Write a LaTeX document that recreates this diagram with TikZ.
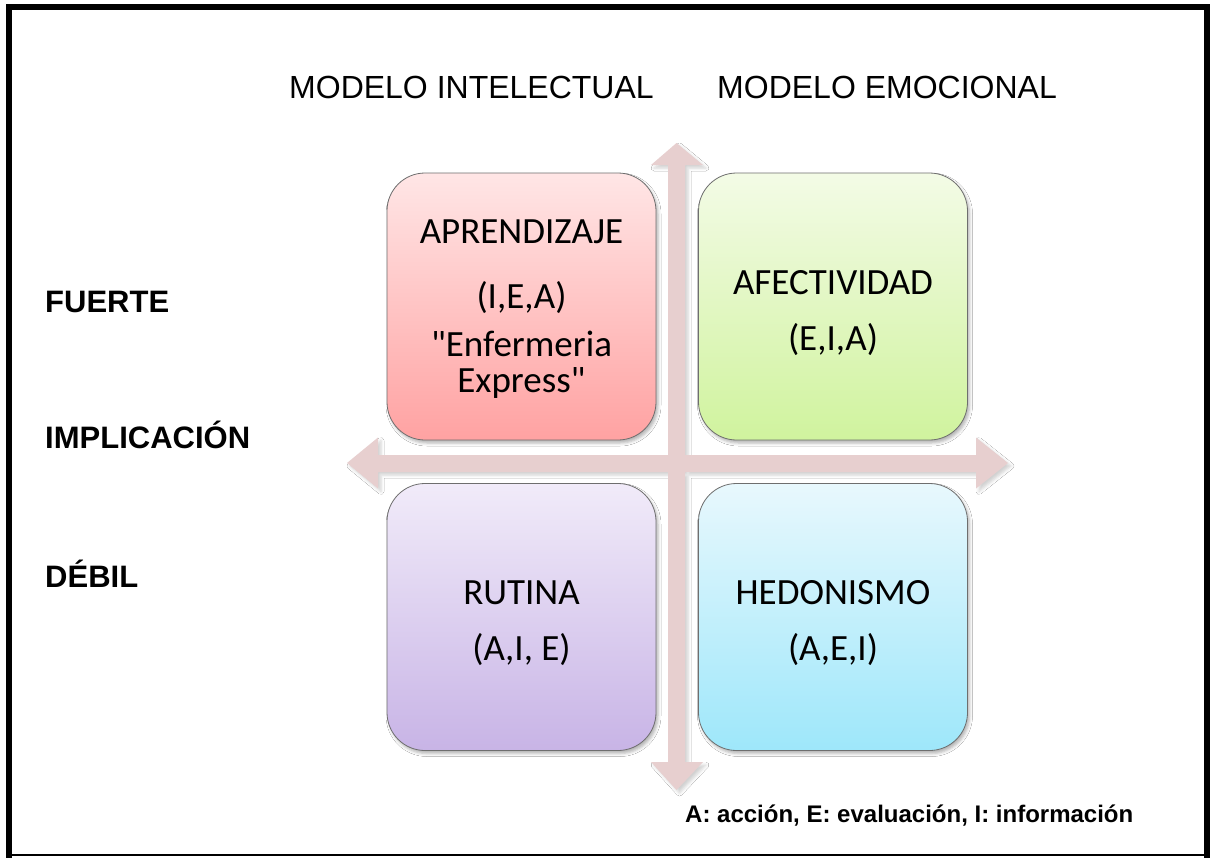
\documentclass[tikz,border=0pt]{standalone}
\usepackage{fontspec}
\setmainfont{Liberation Sans}
\newfontfamily\boxfont{Carlito}
\usetikzlibrary{shadows.blur}
\definecolor{arrowc}{RGB}{231,207,207}
\definecolor{boxline}{RGB}{110,110,110}
\definecolor{aprT}{RGB}{255,230,230}
\definecolor{aprB}{RGB}{255,162,162}
\definecolor{afeT}{RGB}{243,251,230}
\definecolor{afeB}{RGB}{208,243,158}
\definecolor{rutT}{RGB}{241,235,249}
\definecolor{rutB}{RGB}{200,180,230}
\definecolor{hedT}{RGB}{232,248,253}
\definecolor{hedB}{RGB}{158,231,250}
\begin{document}
\begin{tikzpicture}[x=1pt,y=-1pt,
  qbox/.style={draw=boxline, line width=0.8pt, rounded corners=38pt,
    minimum width=269pt, minimum height=267pt, inner sep=0pt, align=center,
    font=\boxfont\fontsize{37}{36}\selectfont,
    blur shadow={shadow xshift=2pt, shadow yshift=-3pt, shadow opacity=30, shadow blur radius=3pt}},
  toplabel/.style={anchor=base west, inner sep=0pt, font=\fontsize{32}{38}\selectfont},
  sidelabel/.style={anchor=base west, inner sep=0pt, font=\bfseries\fontsize{31}{36}\selectfont},
  legend/.style={anchor=base west, inner sep=0pt, font=\bfseries\fontsize{24}{28}\selectfont},
  crossarrow/.style={fill=arrowc,
    blur shadow={shadow xshift=3pt, shadow yshift=-3pt, shadow opacity=18, shadow blur radius=3pt}}
]
\useasboundingbox (0,0) rectangle (1214,857);
\fill[white] (0,0) rectangle (1214,857);

% axes (double block arrows)
\path[crossarrow]
  (676.5,143) -- (703,165) -- (685,165) -- (685,762) -- (703,762) -- (676.5,790)
  -- (651,762) -- (668,762) -- (668,165) -- (651,165) -- cycle
  (347,463) -- (378,437.5) -- (378,455) -- (976,455) -- (976,437.5) -- (1008,463)
  -- (976,488.5) -- (976,472) -- (378,472) -- (378,488.5) -- cycle;

% quadrants
\node[qbox, top color=aprT, bottom color=aprB] (apr) at (521.5,306.5)
  {\rule{0pt}{28pt}APRENDIZAJE\\[29pt](I,E,A)\\[12pt]"Enfermeria\\Express"};
\node[qbox, top color=afeT, bottom color=afeB] (afe) at (833,306.5)
  {\rule{0pt}{37pt}AFECTIVIDAD\\[20pt](E,I,A)};
\node[qbox, top color=rutT, bottom color=rutB] (rut) at (521.5,617)
  {\rule{0pt}{37pt}RUTINA\\[20pt](A,I, E)};
\node[qbox, top color=hedT, bottom color=hedB] (hed) at (833,617)
  {\rule{0pt}{37pt}HEDONISMO\\[20pt](A,E,I)};

% labels
\node[toplabel] (mint) at (289,98) {MODELO INTELECTUAL};
\node[toplabel] (memo) at (717,98) {MODELO EMOCIONAL};
\node[sidelabel] (fue) at (45,312) {FUERTE};
\node[sidelabel] (imp) at (45,448) {IMPLICACIÓN};
\node[sidelabel] (deb) at (45,587) {DÉBIL};
\node[legend] (leg) at (685,822) {A: acción, E: evaluación, I: información};

% frame
\draw[line width=6pt] (9,862) -- (9,7) -- (1207,7) -- (1207,862);
\draw[line width=2pt] (6,855) -- (1210,855);
\end{tikzpicture}
\end{document}
